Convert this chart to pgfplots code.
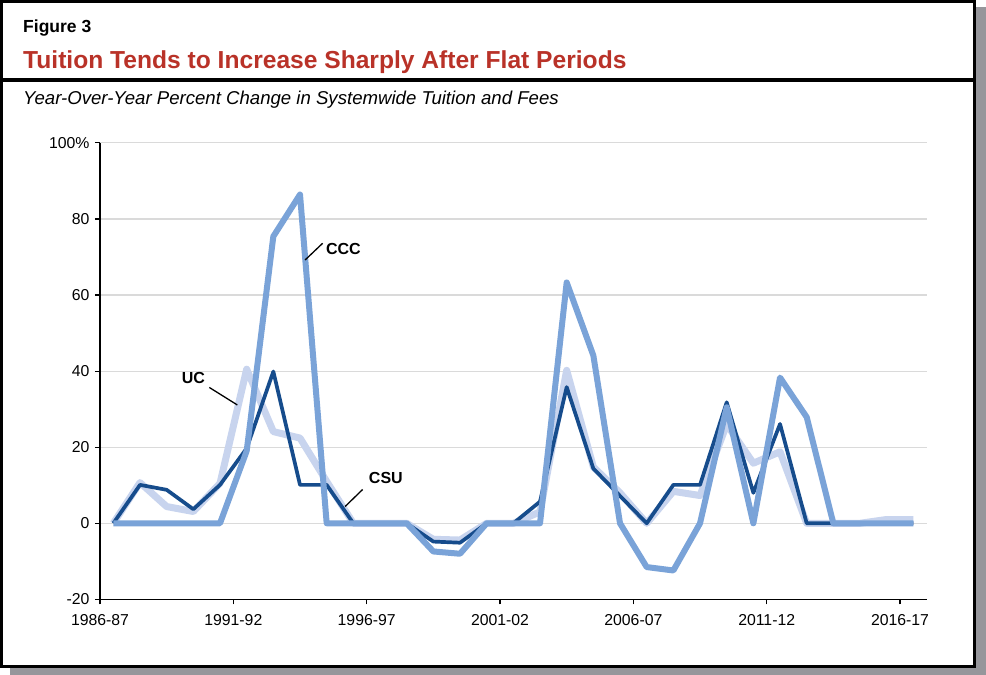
\documentclass[border=0pt]{standalone}
\usepackage{fontspec}
\setmainfont{Liberation Sans}
\usepackage{pgfplots}
\pgfplotsset{compat=1.18}
\definecolor{uclight}{RGB}{200,212,238}
\definecolor{csudark}{RGB}{22,76,140}
\definecolor{cccmed}{RGB}{122,163,216}
\definecolor{titlered}{RGB}{185,50,40}
\definecolor{gridgray}{RGB}{218,218,218}
\definecolor{shadowgray}{RGB}{150,150,155}
\begin{document}
\begin{tikzpicture}[x=1pt,y=1pt]
\useasboundingbox (0,0) rectangle (986,-675);
\fill[shadowgray] (10,-7) rectangle (986,-675);
\filldraw[fill=white, draw=black, line width=2.5pt] (1.25,-1.25) rectangle (974.5,-666.5);
\fill[black] (0,-77.7) rectangle (976,-82.3);
\node[anchor=base west, inner sep=0pt, font=\bfseries\fontsize{17.5}{20}\selectfont] at (23,-32) {Figure 3};
\node[anchor=base west, inner sep=0pt, text=titlered, font=\bfseries\fontsize{24.6}{28}\selectfont] at (23,-68.5) {Tuition Tends to Increase Sharply After Flat Periods};
\node[anchor=base west, inner sep=0pt, font=\itshape\fontsize{18.6}{22}\selectfont] at (23,-104.3) {Year-Over-Year Percent Change in Systemwide Tuition and Fees};
\begin{axis}[
  at={(100pt,-599.4pt)}, anchor=south west,
  width=826.7pt, height=456.6pt, scale only axis,
  xmin=-0.5, xmax=30.5, ymin=-20, ymax=100,
  axis x line*=bottom, axis y line*=left,
  xtick={-0.5,4.5,9.5,14.5,19.5,24.5,29.5},
  xticklabels={1986-87,1991-92,1996-97,2001-02,2006-07,2011-12,2016-17},
  ytick={-20,0,20,40,60,80,100},
  yticklabels={-20,0,20,40,60,80,100\%},
  ymajorgrids,
  grid style={draw=gridgray, line width=1.2pt},
  tick align=outside, major tick length=5pt,
  tick style={black, line width=1.2pt},
  axis line style={black, line width=1.4pt},
  /pgf/number format/assume math mode=true,
  ticklabel style={font=\fontsize{15.8}{18}\selectfont},
  xticklabel style={yshift=-7pt},
  yticklabel style={xshift=-2pt},
  clip=false,
  line join=round,
]
% UC (light)
\addplot[uclight, line width=7pt, no markers] coordinates {
(0,0) (1,10.7) (2,4.4) (3,3.1) (4,10.5) (5,40.5) (6,24.1) (7,22.4) (8,11) (9,0)
(10,0) (11,0) (12,-4.2) (13,-4.4) (14,0) (15,0) (16,3) (17,40.2) (18,14.8) (19,8)
(20,0) (21,8.4) (22,7.3) (23,26) (24,15.8) (25,18.8) (26,0) (27,0) (28,0) (29,1) (30,1)
};
% CSU (dark)
\addplot[csudark, line width=3.7pt, no markers] coordinates {
(0,0) (1,10.1) (2,8.8) (3,3.7) (4,10.1) (5,19.7) (6,39.9) (7,10.1) (8,10.1) (9,0)
(10,0) (11,0) (12,-4.8) (13,-5.1) (14,0) (15,0) (16,5.7) (17,35.8) (18,14.4) (19,7.2)
(20,0) (21,10.1) (22,10.1) (23,31.8) (24,8) (25,26.1) (26,0) (27,0) (28,0) (29,0) (30,0)
};
% CCC (medium)
\addplot[cccmed, line width=6pt, no markers] coordinates {
(0,0) (1,0) (2,0) (3,0) (4,0) (5,19) (6,75.4) (7,86.4) (8,0) (9,0)
(10,0) (11,0) (12,-7.4) (13,-8.0) (14,0) (15,0) (16,0) (17,63.3) (18,44.1) (19,0)
(20,-11.5) (21,-12.4) (22,0) (23,30.5) (24,0) (25,38.3) (26,27.9) (27,0) (28,0) (29,0) (30,0)
};
\node[font=\bfseries\fontsize{16}{18}\selectfont, inner sep=0pt] at (axis cs:8.63,72.1) {CCC};
\draw[black, line width=1.3pt] (axis cs:7.19,69.2) -- (axis cs:7.85,73.6);
\node[font=\bfseries\fontsize{16}{18}\selectfont, inner sep=0pt] at (axis cs:3.0,38.1) {UC};
\draw[black, line width=1.3pt] (axis cs:3.6,35.7) -- (axis cs:4.65,31.1);
\node[font=\bfseries\fontsize{16}{18}\selectfont, inner sep=0pt] at (axis cs:10.22,11.8) {CSU};
\draw[black, line width=1.3pt] (axis cs:8.69,4.4) -- (axis cs:9.35,8.9);
\end{axis}
\end{tikzpicture}
\end{document}
